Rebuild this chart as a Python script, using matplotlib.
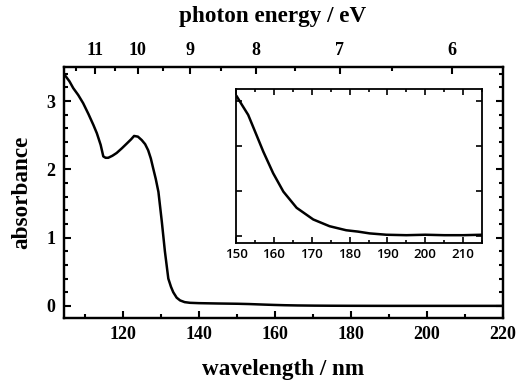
import numpy as np
import matplotlib
matplotlib.use("Agg")
import matplotlib.pyplot as plt
from matplotlib.ticker import MultipleLocator, FixedLocator, NullFormatter

# ---- data ----
wavelength = [104.8, 106.0, 107.0, 108.3, 109.6, 111.0, 112.3, 113.2, 114.2, 114.9, 115.5, 116.2,
              117.3, 118.4, 119.8, 121.1, 122.2, 123.0, 124.0, 125.0, 125.9, 126.7, 127.4, 128.0,
              128.7, 129.4, 130.3, 131.1, 132.0, 132.7, 133.3, 134.2, 135.1, 136.3, 137.7, 140.0, 145.0,
              150.2, 151.5, 153.2, 155.4, 157.2, 159.8, 162.5, 166.0, 170.4, 174.7, 179.1, 182.2,
              185.3, 189.7, 195.0, 200.0, 205.0, 210.0, 215.0, 220.0]
absorbance = [3.38, 3.29, 3.19, 3.09, 2.97, 2.81, 2.65, 2.53, 2.36, 2.19, 2.17, 2.17,
              2.20, 2.24, 2.31, 2.38, 2.44, 2.49, 2.48, 2.43, 2.37, 2.28, 2.16, 2.02,
              1.86, 1.67, 1.23, 0.80, 0.40, 0.28, 0.20, 0.12, 0.08, 0.055, 0.045, 0.04, 0.035,
              0.0310, 0.0292, 0.0269, 0.0224, 0.0187, 0.0139, 0.0098, 0.0062, 0.0036, 0.0021, 0.0012, 0.0009,
              0.0005, 0.0002, 0.0001, 0.0002, 0.0001, 0.0001, 0.0002, 0.0001]

energy_ticks = [6, 7, 8, 9, 10, 11]
energy_minor = [6.5, 7.5, 8.5, 9.5, 10.5, 11.5]
hc = 1239.84  # eV nm

inset_ticks = [0.0, 0.01, 0.02, 0.03]

serif = "Liberation Serif"

fig = plt.figure(figsize=(5.2, 3.83), dpi=100)
ax = fig.add_axes([0.123, 0.170, 0.844, 0.655])

wl = np.array(wavelength)
ab = np.array(absorbance)
ax.plot(wl, ab, color="black", lw=1.8)
ax.set_xlim(104.55, 220)
ax.set_ylim(-0.176, 3.50)

ax.xaxis.set_major_locator(MultipleLocator(20))
ax.xaxis.set_minor_locator(MultipleLocator(10))
ax.yaxis.set_major_locator(MultipleLocator(1))
ax.yaxis.set_minor_locator(MultipleLocator(0.2))
ax.tick_params(which="both", direction="in", top=False, right=True, width=1.5)
ax.tick_params(which="major", length=5, labelsize=13, pad=6)
ax.tick_params(which="minor", length=2.8)
for s in ax.spines.values():
    s.set_linewidth(1.6)
for lab in ax.get_xticklabels() + ax.get_yticklabels():
    lab.set_fontfamily(serif)
    lab.set_fontweight("bold")
ax.set_xlabel("wavelength / nm", fontfamily=serif, fontweight="bold", fontsize=16.7, labelpad=11)
ax.set_ylabel("absorbance", fontfamily=serif, fontweight="bold", fontsize=16.7, labelpad=10)

# top energy axis
ax2 = ax.twiny()
ax2.set_xlim(ax.get_xlim())
ax2.xaxis.set_major_locator(FixedLocator([hc / e for e in energy_ticks]))
ax2.set_xticklabels([str(e) for e in energy_ticks])
ax2.xaxis.set_minor_locator(FixedLocator([hc / e for e in energy_minor]))
ax2.xaxis.set_minor_formatter(NullFormatter())
ax2.tick_params(which="both", direction="in", width=1.5)
ax2.tick_params(which="major", length=5, labelsize=13, pad=6)
ax2.tick_params(which="minor", length=2.8)
for lab in ax2.get_xticklabels():
    lab.set_fontfamily(serif)
    lab.set_fontweight("bold")
ax2.set_xlabel("photon energy / eV", fontfamily=serif, fontweight="bold", fontsize=16.7, labelpad=14)
ax2.xaxis.set_label_coords(0.475, 1.20)
ax2.xaxis.label.set_va("center")
for s in ax2.spines.values():
    s.set_linewidth(1.6)

# inset
axi = fig.add_axes([0.454, 0.366, 0.473, 0.402])
mask = wl >= 150
axi.plot(wl[mask], ab[mask], color="black", lw=1.8)
axi.set_xlim(150, 215)
axi.set_ylim(-0.0016, 0.0327)
axi.xaxis.set_major_locator(MultipleLocator(10))
axi.xaxis.set_minor_locator(MultipleLocator(5))
axi.yaxis.set_major_locator(FixedLocator(inset_ticks))
axi.yaxis.set_major_formatter(NullFormatter())
axi.tick_params(which="both", direction="in", top=True, right=True, width=1.2)
axi.tick_params(which="major", length=4, labelsize=9.5, pad=4)
axi.tick_params(which="minor", length=2.5)
for s in axi.spines.values():
    s.set_linewidth(1.3)
for lab in axi.get_xticklabels():
    lab.set_fontfamily("Open Sans")
    lab.set_fontweight("semibold")

fig.savefig("out.png", dpi=100)
